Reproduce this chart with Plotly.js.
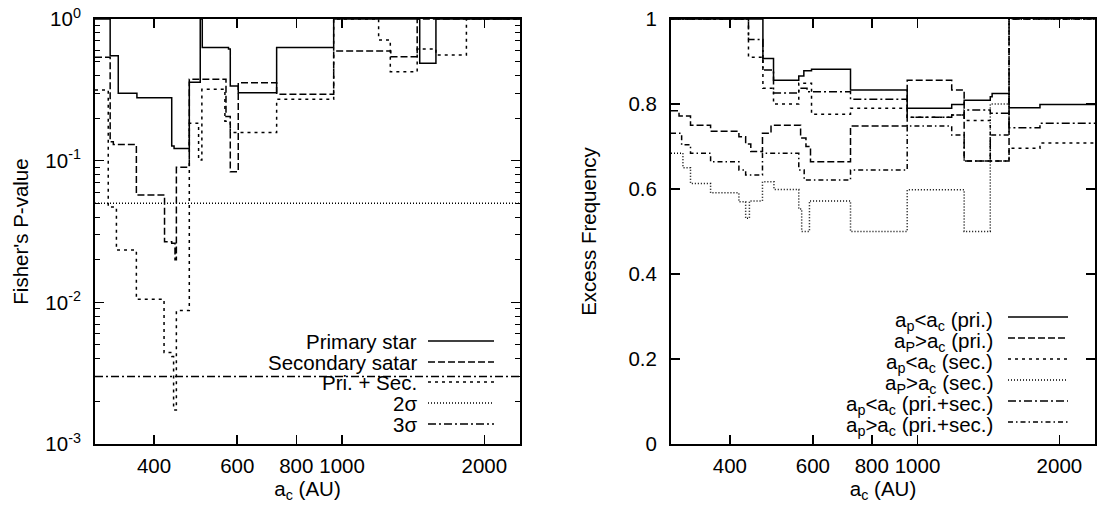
<!DOCTYPE html>
<html><head><meta charset="utf-8">
<script src="https://cdn.plot.ly/plotly-3.0.1.min.js"></script>
<style>html,body{margin:0;padding:0;background:#fff}#chart{width:1098px;height:513px}</style>
</head><body><div id="chart"></div>
<script>
// ---------- Left panel: Fisher's P-value (step functions, value holds until next break) ----------
const primaryX   = [300, 323, 336, 368, 436, 441, 475, 501, 506, 575, 580, 603, 727, 960, 1460, 1580, 2400];
const primaryY   = [1, 0.55, 0.299, 0.278, 0.127, 0.122, 0.357, 1, 0.63, 0.614, 0.337, 0.302, 0.63, 1, 0.487, 1, 1];
const secondaryX = [300, 323, 328, 367, 421, 436, 443, 446, 475, 568, 580, 603, 727, 960, 1268, 1442, 2400];
const secondaryY = [0.536, 0.136, 0.13, 0.0573, 0.0268, 0.0261, 0.020, 0.0898, 0.375, 0.205, 0.0836, 0.355, 0.294, 0.594, 0.542, 1, 1];
const priSecX    = [300, 320, 333, 367, 420, 436, 440, 446, 475, 497, 505, 565, 580, 727, 960, 1195, 1265, 1442, 1580, 1833, 2400];
const priSecY    = [0.315, 0.047, 0.0234, 0.0105, 0.00442, 0.00414, 0.00174, 0.00874, 0.184, 0.101, 0.319, 0.19, 0.158, 0.271, 1, 0.711, 0.425, 0.614, 0.557, 1, 1];
const sigmaNames = ['2σ', '3σ'];
const sigmaP     = [0.05, 0.003];
const leftNames  = ['Primary star', 'Secondary satar', 'Pri. + Sec.', '2σ', '3σ'];

// ---------- Right panel: Excess Frequency ----------
const rSolidX  = [300, 470, 495, 560, 574, 596, 721, 951, 1182, 1256, 1427, 1440, 1564, 1819, 2400];
const rSolidY  = [1, 0.907, 0.856, 0.866, 0.878, 0.882, 0.833, 0.79, 0.799, 0.809, 0.817, 0.825, 0.791, 0.799, 0.799];
const rLongX   = [300, 312, 330, 364, 418, 432, 443, 469, 489, 565, 580, 593, 721, 951, 1182, 1256, 1564, 2400];
const rLongY   = [0.784, 0.772, 0.75, 0.736, 0.723, 0.706, 0.688, 0.731, 0.75, 0.72, 0.70, 0.664, 0.748, 0.856, 0.833, 0.666, 1, 1];
const rShortX  = [300, 438, 470, 495, 560, 596, 721, 951, 1182, 1256, 1427, 1564, 1819, 2400];
const rShortY  = [1, 0.91, 0.837, 0.80, 0.849, 0.776, 0.79, 0.769, 0.774, 0.761, 0.666, 0.696, 0.708, 0.708];
const rDotX    = [300, 318, 330, 364, 418, 432, 440, 469, 496, 560, 568, 590, 721, 951, 1256, 1427, 1564, 2400];
const rDotY    = [0.684, 0.65, 0.613, 0.591, 0.570, 0.531, 0.572, 0.617, 0.599, 0.553, 0.5, 0.572, 0.5, 0.598, 0.5, 0.80, 1, 1];
const rDashDotX = [300, 438, 470, 495, 560, 583, 721, 951, 1182, 1256, 1427, 1564, 1819, 2400];
const rDashDotY = [1, 0.952, 0.88, 0.826, 0.837, 0.829, 0.811, 0.769, 0.774, 0.786, 0.778, 0.744, 0.755, 0.755];
const rDDotX   = [300, 316, 330, 364, 418, 432, 469, 560, 575, 721, 951, 1182, 1256, 1427, 1564, 2400];
const rDDotY   = [0.731, 0.704, 0.684, 0.664, 0.645, 0.633, 0.684, 0.645, 0.621, 0.645, 0.748, 0.727, 0.666, 0.727, 1, 1];
const rightNames = [
  'a<sub>p</sub>&lt;a<sub>c</sub> (pri.)',
  'a<sub>P</sub>&gt;a<sub>c</sub> (pri.)',
  'a<sub>p</sub>&lt;a<sub>c</sub> (sec.)',
  'a<sub>P</sub>&gt;a<sub>c</sub> (sec.)',
  'a<sub>p</sub>&lt;a<sub>c</sub> (pri.+sec.)',
  'a<sub>p</sub>&gt;a<sub>c</sub> (pri.+sec.)'
];

// tick labels
const xTickVals = [400, 600, 800, 1000, 2000];
const xTickText = ['400', '600', '800', '1000', '2000'];
const yLogVals  = [0.001, 0.01, 0.1, 1];
const yLogText  = ['10<sup>-3</sup>', '10<sup>-2</sup>', '10<sup>-1</sup>', '10<sup>0</sup>'];

// ---------- styles ----------
const FONT = 'Liberation Sans, Arial, Helvetica, sans-serif';
const FS = 20.5;
const D = {
  solid: 'solid',
  long: '7px,3px',
  short: '3px,4px',
  dot: '1px,2px',
  dashdot: '8px,3px,2px,3px',
  ddot: '5px,3px,1.5px,3px'
};
const LW = 1.5;

function step(x, y, dash, xa, ya) {
  return {x: x, y: y, xaxis: xa, yaxis: ya, type: 'scatter', mode: 'lines',
          line: {shape: 'hv', color: '#000', width: LW, dash: dash},
          hoverinfo: 'skip', showlegend: false};
}

const xRange = [Math.log10(300), Math.log10(2380)];
const traces = [
  step(primaryX, primaryY, D.solid, 'x', 'y'),
  step(secondaryX, secondaryY, D.long, 'x', 'y'),
  step(priSecX, priSecY, D.short, 'x', 'y'),
  step([300, 2380], [sigmaP[0], sigmaP[0]], D.dot, 'x', 'y'),
  step([300, 2380], [sigmaP[1], sigmaP[1]], D.dashdot, 'x', 'y'),
  step(rSolidX, rSolidY, D.solid, 'x2', 'y2'),
  step(rLongX, rLongY, D.long, 'x2', 'y2'),
  step(rShortX, rShortY, D.short, 'x2', 'y2'),
  step(rDotX, rDotY, D.dot, 'x2', 'y2'),
  step(rDashDotX, rDashDotY, D.dashdot, 'x2', 'y2'),
  step(rDDotX, rDDotY, D.ddot, 'x2', 'y2')
];

// pixel helpers for legend placement (plot area: x 95..1095, y 19..444)
const ML = 95, MT = 19, PW = 1000, PH = 425;
const px = v => (v - ML) / PW;
const py = v => (MT + PH - v) / PH;

const annotations = [];
const shapes = [];
const leftDash = [D.solid, D.long, D.short, D.dot, D.dashdot];
const leftRows = [341, 362, 382, 403, 424];
leftNames.forEach((n, i) => {
  annotations.push({xref: 'paper', yref: 'paper', x: px(419), y: py(leftRows[i]), xanchor: 'right', yanchor: 'middle',
    text: n, showarrow: false, font: {family: FONT, size: FS, color: '#000'}});
  shapes.push({type: 'line', xref: 'paper', yref: 'paper', x0: px(428), x1: px(494), y0: py(leftRows[i]), y1: py(leftRows[i]),
    line: {color: '#000', width: LW, dash: leftDash[i]}});
});
const rightDash = [D.solid, D.long, D.short, D.dot, D.dashdot, D.ddot];
const rightRows = [317, 338, 359, 380, 401, 422];
rightNames.forEach((n, i) => {
  annotations.push({xref: 'paper', yref: 'paper', x: px(995), y: py(rightRows[i] + 4), xanchor: 'right', yanchor: 'middle',
    text: n, showarrow: false, font: {family: FONT, size: FS, color: '#000'}});
  shapes.push({type: 'line', xref: 'paper', yref: 'paper', x0: px(1008), x1: px(1068), y0: py(rightRows[i]), y1: py(rightRows[i]),
    line: {color: '#000', width: LW, dash: rightDash[i]}});
});

const minorLog = [];
[-3, -2, -1].forEach(e => { for (let k = 2; k <= 9; k++) minorLog.push(k * Math.pow(10, e)); });

const axBase = {
  showline: true, linecolor: '#000', linewidth: 2, mirror: 'ticks',
  ticks: 'inside', ticklen: 9, tickwidth: 1.5, tickcolor: '#000',
  showgrid: false, zeroline: false,
  tickfont: {family: FONT, size: FS, color: '#000'}
};
const minorSpec = {tickmode: 'array', tickvals: minorLog, ticks: 'inside', ticklen: 5, tickwidth: 1, tickcolor: '#000', showgrid: false};

const layout = {
  width: 1098, height: 513,
  margin: {l: ML, r: 1098 - ML - PW, t: MT, b: 513 - MT - PH},
  paper_bgcolor: '#fff', plot_bgcolor: '#fff',
  font: {family: FONT, size: FS, color: '#000'},
  showlegend: false,
  xaxis: Object.assign({}, axBase, {
    type: 'log', range: xRange, domain: [0, 0.425],
    tickmode: 'array', tickvals: xTickVals, ticktext: xTickText, ticklabelstandoff: 2,
    title: {text: 'a<sub>c</sub> (AU)', font: {family: FONT, size: FS}, standoff: 2},
    anchor: 'y'
  }),
  yaxis: Object.assign({}, axBase, {
    type: 'log', range: [-3, 0],
    tickmode: 'array', tickvals: yLogVals, ticktext: yLogText, ticklabelstandoff: 8,
    minor: minorSpec,
    title: {text: "Fisher's P-value", font: {family: FONT, size: FS}, standoff: 11},
    anchor: 'x'
  }),
  // mirrored copy of the log axis on the right side of the left panel (ticks only)
  yaxis3: {
    type: 'log', range: [-3, 0], overlaying: 'y', side: 'right', anchor: 'x',
    showline: false, showgrid: false, zeroline: false, showticklabels: false,
    ticks: 'inside', ticklen: 9, tickwidth: 1.5, tickcolor: '#000',
    tickmode: 'array', tickvals: yLogVals, minor: minorSpec
  },
  xaxis2: Object.assign({}, axBase, {
    type: 'log', range: xRange, domain: [0.576, 1],
    tickmode: 'array', tickvals: xTickVals, ticktext: xTickText, ticklabelstandoff: 2,
    title: {text: 'a<sub>c</sub> (AU)', font: {family: FONT, size: FS}, standoff: 2},
    anchor: 'y2'
  }),
  yaxis2: Object.assign({}, axBase, {
    range: [0, 1], dtick: 0.2, tick0: 0, ticklabelstandoff: 8,
    title: {text: 'Excess Frequency', font: {family: FONT, size: FS}, standoff: 26},
    anchor: 'x2'
  }),
  annotations: annotations,
  shapes: shapes
};

// an invisible trace so the mirrored axis is drawn
traces.push({x: [300], y: [1], xaxis: 'x', yaxis: 'y3', type: 'scatter', mode: 'markers',
             marker: {opacity: 0}, hoverinfo: 'skip', showlegend: false});

Plotly.newPlot('chart', traces, layout, {staticPlot: true, displayModeBar: false});
</script></body></html>
